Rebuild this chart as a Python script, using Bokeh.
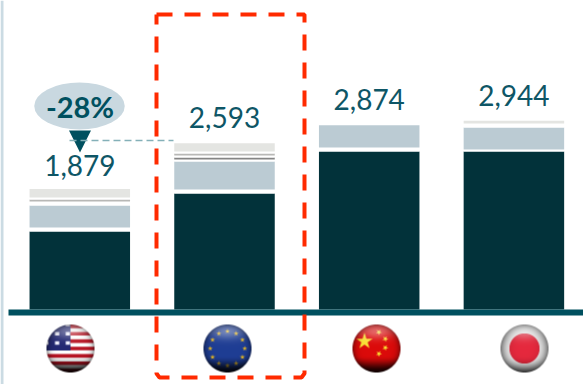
import numpy as np
from bokeh.core.properties import value
from bokeh.embed import file_html
from bokeh.models import ColumnDataSource, Range1d
from bokeh.plotting import figure
from bokeh.resources import INLINE

# Regional totals and their stacked components
regions = ["US", "EU", "China", "Japan"]
totals = [1879, 2593, 2874, 2944]
total_labels = ["1,879", "2,593", "2,874", "2,944"]
core = [1216, 1809, 2464, 2464]
gap_a = [62, 62, 62, 31]
second = [343, 437, 348, 343]
gap_b = [62, 31, 0, 62]
third = [0, 31, 0, 0]
gap_c = [0, 31, 0, 0]
fourth = [31, 31, 0, 0]
gap_d = [31, 31, 0, 0]
fifth = [134, 130, 0, 44]
change_label = "-28%"

W, H = 583, 384
BASE_PX = 309
UNIT_PX = 0.06414
SLOT_PX = 144.7
FIRST_PX = 79.3


def dx(px):
    return (px - FIRST_PX) / SLOT_PX


def dy(px):
    return (BASE_PX - px) / UNIT_PX


p = figure(
    width=W, height=H, output_backend="svg", toolbar_location=None,
    x_range=Range1d(dx(0), dx(W)), y_range=Range1d(dy(H), dy(0)),
    min_border=0, background_fill_color="white",
)
p.axis.visible = False
p.grid.visible = False
p.outline_line_color = None

# Stacked bars; the spacer series stay white
stack_names = ["core", "gap_a", "second", "gap_b", "third", "gap_c", "fourth", "gap_d", "fifth"]
stack_colors = ["#02323A", "white", "#BBCBD3", "white", "#858585", "white",
                "#B8B8B6", "white", "#E4E5E2"]
source = ColumnDataSource(dict(
    x=list(range(len(regions))), core=core, gap_a=gap_a, second=second, gap_b=gap_b,
    third=third, gap_c=gap_c, fourth=fourth, gap_d=gap_d, fifth=fifth,
))
p.vbar_stack(stack_names, x="x", width=100.5 / SLOT_PX, color=stack_colors,
             line_color=None, source=source)

# Page edge rule and baseline band
p.quad(left=[dx(0)], right=[dx(3)], bottom=[dy(H)], top=[dy(0)], color="#CBDBE3", line_color=None)
p.quad(left=[dx(8)], right=[dx(W)], bottom=[dy(315)], top=[dy(309)], color="#00505F", line_color=None)

# Value labels, sitting above each stack
label_shift = [23.5, 25.7, 25.7, 25.2]
p.text(x=list(range(4)), y=totals, text=total_labels, y_offset=[-s for s in label_shift],
       text_font=value("Lato"), text_font_size="28px", text_color="#0E5666",
       text_align="center", text_baseline="alphabetic")

# Callout comparing the first two regions
p.ellipse(x=[dx(79)], y=[dy(105.5)], width=90.5 / SLOT_PX, height=47 / UNIT_PX,
          color="#C9D8E0", line_color=None)
p.patch(x=[dx(68.5), dx(90.5), dx(79.5)], y=[dy(130), dy(130), dy(152)],
        color="#00505F", line_color=None)
p.line(x=[dx(69), dx(173)], y=[dy(140), dy(140)], line_color="#84B0B8",
       line_width=1.3, line_dash="7 4")
p.text(x=[dx(79.5)], y=[dy(106)], text=[change_label], text_font=value("Lato"),
       text_font_style="bold", text_font_size="29px", text_color="#00505F",
       text_align="center", text_baseline="alphabetic")

# Red dashed frame around the second region
frame_x = [156, 304, 304, 301, 159, 156, 156]
frame_y = [14, 14, 373, 377, 377, 373, 14]
p.line(x=[dx(v) for v in frame_x], y=[dy(v) for v in frame_y], line_color="#FF2A00",
       line_width=4, line_dash="16 12")


def star(u, v, cx, cy, r, turn=0.0):
    """Boolean mask of a five-pointed star."""
    a = np.arctan2(u - cx, -(v - cy)) - turn
    d = np.hypot(u - cx, v - cy)
    sector = 2 * np.pi / 5
    a = np.abs(((a + sector / 2) % sector) - sector / 2)
    inner = 0.382 * r
    # Edge from the outer tip to the inner notch, in polar form
    tip = np.array([0.0, r])
    notch = np.array([inner * np.sin(sector / 2), inner * np.cos(sector / 2)])
    px, py = d * np.sin(a), d * np.cos(a)
    ex, ey = notch - tip
    return (px - tip[0]) * (-ey) + (py - tip[1]) * ex <= 0


def paint(kind, u, v):
    rgb = np.ones(u.shape + (3,))
    if kind == "US":
        band = np.floor((v + 1) / 2 * 13).astype(int) % 2 == 0
        rgb[band] = (0.72, 0.08, 0.14)
        canton = (u < 0.0) & (v < 0.08)
        rgb[canton] = (0.14, 0.16, 0.45)
        sx = np.cos((u + 1) * 2.25 * np.pi * 2)
        sy = np.cos((v + 1) * 2.6 * np.pi * 2)
        rgb[canton & (sx > 0.35) & (sy > 0.35)] = (0.95, 0.95, 1.0)
    elif kind == "EU":
        rgb[...] = (0.12, 0.24, 0.58)
        for k in range(12):
            t = k * np.pi / 6
            rgb[star(u, v, 0.72 * np.sin(t), -0.72 * np.cos(t), 0.11)] = (0.92, 0.74, 0.15)
    elif kind == "China":
        rgb[...] = (0.86, 0.04, 0.04)
        rgb[star(u, v, -0.50, -0.30, 0.36)] = (0.98, 0.88, 0.2)
        for cx, cy in [(0.10, -0.68), (0.37, -0.40), (0.37, -0.03), (0.10, 0.22)]:
            rgb[star(u, v, cx, cy, 0.13, 0.5)] = (0.98, 0.88, 0.2)
    else:
        rgb[...] = (0.96, 0.96, 0.96)
        rgb[np.hypot(u, v) < 0.63] = (0.90, 0.16, 0.24)
    return rgb


def globe(kind, size=48, sub=4):
    """Shaded sphere carrying a flag, as an RGBA pixel array."""
    n = size * sub
    axis = (np.arange(n) + 0.5) / n * 2 - 1
    u, v = np.meshgrid(axis, axis)
    r = np.hypot(u, v)
    rgb = paint(kind, u, v)
    low = np.clip((v - 0.3) / 0.7, 0, 1)
    shade = (1 - 0.88 * low * low * (3 - 2 * low)) * (1 - 0.45 * r ** 8)
    if kind == "Japan":
        shade = (1 - 0.62 * low * low) * (1 - 0.55 * r ** 4)
    rgb = rgb * shade[..., None]
    glow = 0.38 * np.exp(-(((v + 0.72) / 0.32) ** 2)) * np.exp(-((u / 0.75) ** 2))
    rgb = rgb + (1 - rgb) * glow[..., None]
    alpha = (r <= 1.0).astype(float)
    pre = np.dstack([rgb * alpha[..., None], alpha])
    pre = pre.reshape(size, sub, size, sub, 4).mean(axis=(1, 3))
    a = np.where(pre[..., 3] > 0, pre[..., 3], 1)
    out = np.dstack([pre[..., :3] / a[..., None], pre[..., 3]])
    img = (np.clip(out, 0, 1) * 255).astype(np.uint8)
    packed = np.zeros((size, size), dtype=np.uint32)
    view = packed.view(np.uint8).reshape(size, size, 4)
    view[...] = img[::-1]
    return packed


# Flag globes beneath the baseline
flag_centres = [70, 227, 376, 524]
for kind, cx in zip(regions, flag_centres):
    p.image_rgba(image=[globe(kind)], x=[dx(cx - 24)], y=[dy(372)],
                 dw=[48 / SLOT_PX], dh=[48 / UNIT_PX])

open("out.html", "w").write(file_html(p, INLINE))
